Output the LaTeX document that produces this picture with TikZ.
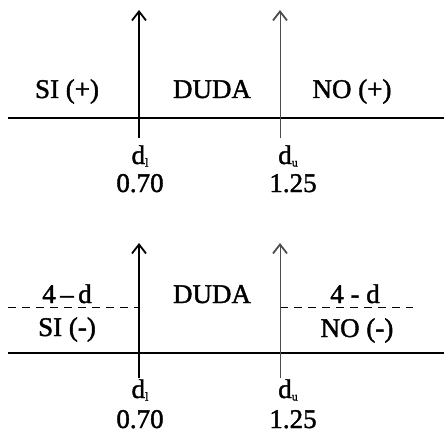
\documentclass[tikz,border=0pt]{standalone}
\usepackage{fontspec}
\setmainfont{Liberation Serif}
\newfontfamily\lblfont{Liberation Serif}[FakeBold=1.5]
\usetikzlibrary{arrows.meta}
\newcommand{\subl}[1]{\raisebox{-2.5pt}{\fontsize{12}{12}\selectfont #1}}
\begin{document}
\begin{tikzpicture}[x=1pt,y=-1pt,
  lbl/.style={font=\lblfont\fontsize{27}{29}\selectfont, inner sep=0pt, anchor=base},
  axis/.style={line width=1.4pt},
  vup/.style={line width=1.7pt, -{Straight Barb[length=9pt,width=14pt,line width=1.8pt]}},
  vup2/.style={line width=1.0pt, draw=black!70, -{Straight Barb[length=9pt,width=14pt,line width=1.8pt]}},
  dashln/.style={line width=1.0pt, dash pattern=on 8pt off 6pt}]
\useasboundingbox (0,0) rectangle (444,433);
% ---------- top panel ----------
\coordinate (a0) at (8,118);
\coordinate (a1) at (444,118);
\coordinate (lb) at (139,138);
\coordinate (lt) at (139,10);
\coordinate (ub) at (280,138);
\coordinate (ut) at (280,10);
\draw[axis] (a0) -- (a1);
\draw[vup] (lb) -- (lt);
\draw[vup2] (ub) -- (ut);
\node[lbl] (si1) at (67,98) {SI (+)};
\node[lbl] (duda1) at (212,98) {DUDA};
\node[lbl] (no1) at (352,98) {NO (+)};
\node[lbl] (dl1) at (140,164) {d\subl{l}};
\node[lbl] (du1) at (288,164) {d\subl{u}};
\node[lbl] (v1) at (140,192) {0.70};
\node[lbl] (v2) at (293,192) {1.25};
% ---------- bottom panel ----------
\coordinate (b0) at (8,353);
\coordinate (b1) at (444,353);
\coordinate (mb) at (139,378);
\coordinate (mt) at (139,243);
\coordinate (nb) at (280,378);
\coordinate (nt) at (280,243);
\coordinate (dl0) at (8,307);
\coordinate (dl1) at (139,307);
\coordinate (dr0) at (280,307);
\coordinate (dr1) at (413,307);
\draw[axis] (b0) -- (b1);
\draw[dashln] (dl0) -- (dl1);
\draw[dashln] (dr0) -- (dr1);
\draw[vup] (mb) -- (mt);
\draw[vup2] (nb) -- (nt);
\node[lbl] (fd1) at (67,303) {4\,–\,d};
\node[lbl] (si2) at (67,336) {SI (-)};
\node[lbl] (duda2) at (212,303) {DUDA};
\node[lbl] (fd2) at (355,303) {4 - d};
\node[lbl] (no2) at (357,337) {NO (-)};
\node[lbl] (dl2) at (140,398) {d\subl{l}};
\node[lbl] (du2) at (288,398) {d\subl{u}};
\node[lbl] (v3) at (140,428) {0.70};
\node[lbl] (v4) at (293,428) {1.25};
\end{tikzpicture}
\end{document}
